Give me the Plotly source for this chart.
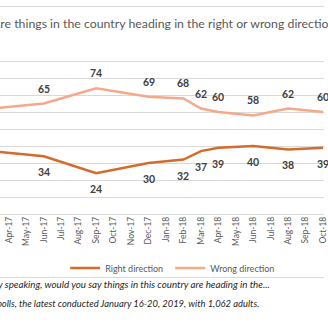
import plotly.graph_objects as go

# Month axis (one tick per month)
months = ["Jan-17", "Feb-17", "Mar-17", "Apr-17", "May-17", "Jun-17", "Jul-17",
          "Aug-17", "Sep-17", "Oct-17", "Nov-17", "Dec-17", "Jan-18", "Feb-18",
          "Mar-18", "Apr-18", "May-18", "Jun-18", "Jul-18", "Aug-18", "Sep-18",
          "Oct-18", "Nov-18", "Dec-18", "Jan-19"]

# Poll dates and results (%)
poll_months = ["Mar-17", "Jun-17", "Sep-17", "Dec-17", "Feb-18", "Mar-18",
               "Apr-18", "Jun-18", "Aug-18", "Oct-18"]
right_direction = [37, 34, 24, 30, 32, 37, 39, 40, 38, 39]
wrong_direction = [62, 65, 74, 69, 68, 62, 60, 58, 62, 60]

RIGHT_COLOR = "#D56B2A"
WRONG_COLOR = "#F4A98A"
TEXT_GRAY = "#595959"
LABEL_GRAY = "#404040"
GRID = "#D9D9D9"
FONT = "Lato"

W, H = 328, 328
TOP, BOTTOM = 44, 214          # pixel rows of the plot area
PLOT_H = BOTTOM - TOP


def py(y_px):
    """Pixel row -> paper y coordinate."""
    return (BOTTOM - y_px) / PLOT_H


def px(x_px):
    """Pixel column -> paper x coordinate."""
    return x_px / W


x_idx = [months.index(m) for m in poll_months]

fig = go.Figure()
fig.add_trace(go.Scatter(x=x_idx, y=right_direction, mode="lines",
                         name="Right direction",
                         line=dict(color=RIGHT_COLOR, width=2.5)))
fig.add_trace(go.Scatter(x=x_idx, y=wrong_direction, mode="lines",
                         name="Wrong direction",
                         line=dict(color=WRONG_COLOR, width=2.5)))

# Data labels: wrong direction above its line, right direction below
annotations = []
for xi, v in zip(x_idx, wrong_direction):
    annotations.append(dict(x=xi, y=v, xref="x", yref="y", text=str(v),
                            showarrow=False, yshift=15,
                            font=dict(family=FONT, size=10.5, color=LABEL_GRAY, weight="bold")))
for xi, v in zip(x_idx, right_direction):
    annotations.append(dict(x=xi, y=v, xref="x", yref="y", text=str(v),
                            showarrow=False, yshift=-16,
                            font=dict(family=FONT, size=10.5, color=LABEL_GRAY, weight="bold")))

# Title and notes
annotations.append(dict(
    text="Are things in the country heading in the right or wrong direction?",
    xref="paper", yref="paper", x=px(-10.5), y=py(24), xanchor="left", yanchor="middle",
    showarrow=False, font=dict(family=FONT, size=12.3, color=TEXT_GRAY)))
annotations.append(dict(
    text="<i>Question: Generally speaking, would you say things in this country are heading in the...</i>",
    xref="paper", yref="paper", x=px(275), y=py(284), xanchor="right", yanchor="middle",
    showarrow=False, font=dict(family=FONT, size=9.75, color="#262626")))
annotations.append(dict(
    text="<i>Source: AP-NORC polls, the latest conducted January 16-20, 2019, with 1,062 adults.</i>",
    xref="paper", yref="paper", x=px(264), y=py(303), xanchor="right", yanchor="middle",
    showarrow=False, font=dict(family=FONT, size=9.4, color="#262626")))

shapes = [
    dict(type="line", xref="paper", yref="paper", x0=0, x1=1, y0=py(6.5), y1=py(6.5),
         line=dict(color=GRID, width=1)),
    dict(type="line", xref="paper", yref="paper", x0=0, x1=1, y0=py(277.5), y1=py(277.5),
         line=dict(color=GRID, width=1)),
]

fig.update_layout(
    width=W, height=H,
    margin=dict(l=0, r=0, t=TOP, b=H - BOTTOM, pad=0),
    paper_bgcolor="white", plot_bgcolor="white",
    showlegend=True,
    legend=dict(orientation="h", x=px(66), y=py(268), xanchor="left", yanchor="middle",
                font=dict(family=FONT, size=9, color=TEXT_GRAY),
                entrywidth=60, bgcolor="rgba(0,0,0,0)"),
    annotations=annotations,
    shapes=shapes,
    xaxis=dict(range=[2.49, 21.05], tickmode="array",
               tickvals=list(range(len(months))), ticktext=months,
               tickangle=-90, showgrid=False, zeroline=False, showline=False,
               ticks="", ticklabeloverflow="allow",
               tickfont=dict(family=FONT, size=8.5, color=TEXT_GRAY)),
    yaxis=dict(range=[0, 100], dtick=10, showgrid=True, gridcolor=GRID, gridwidth=1,
               zeroline=True, zerolinecolor=GRID, zerolinewidth=1,
               showticklabels=False, ticks="", showline=False),
)

fig.write_html("out.html")
